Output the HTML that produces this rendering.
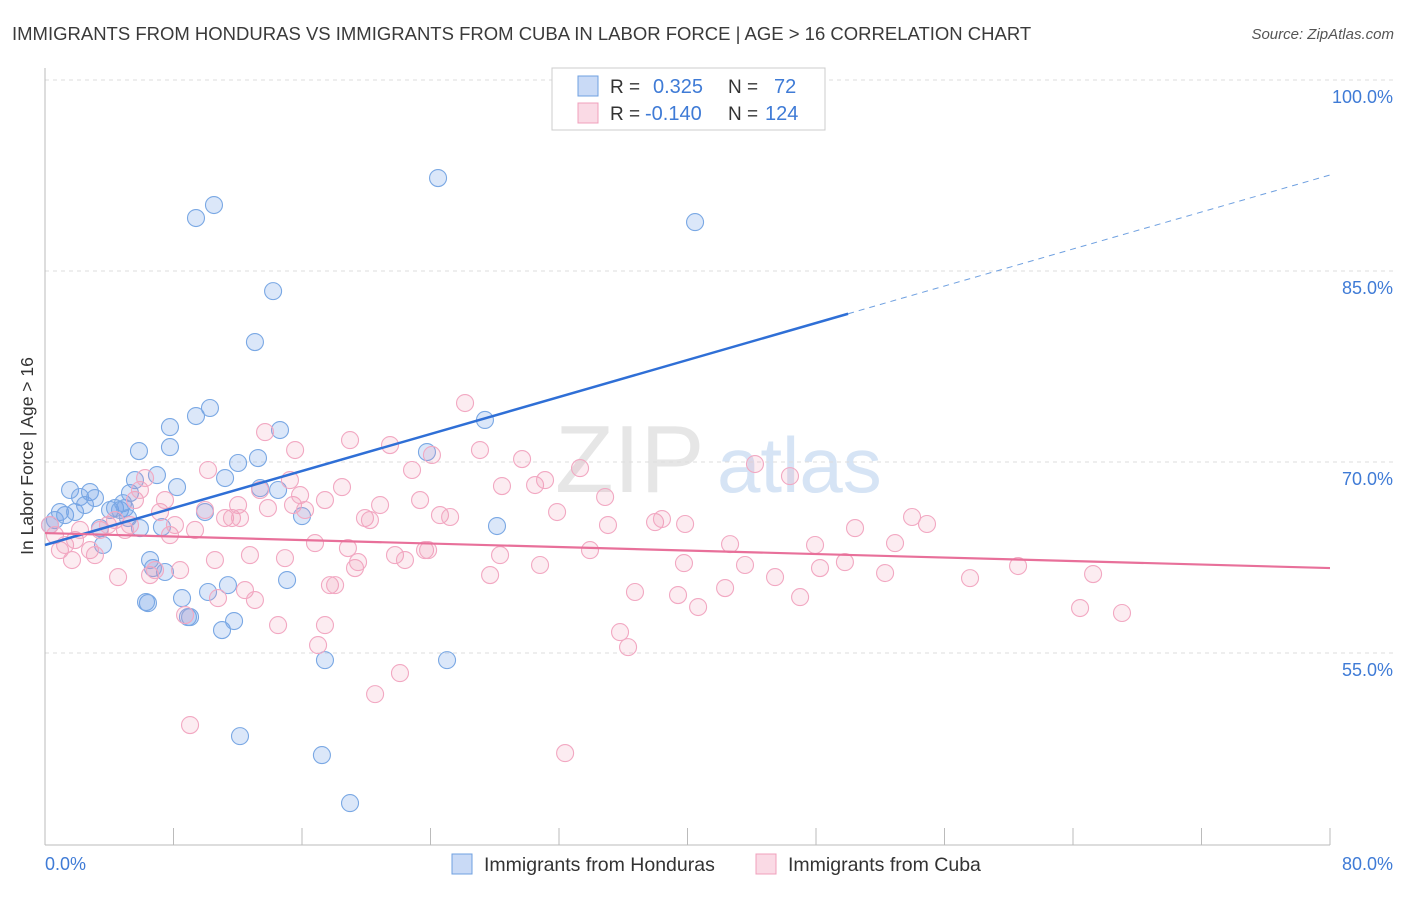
<!DOCTYPE html>
<html><head><meta charset="utf-8"><style>
body{margin:0;background:#fff;font-family:"Liberation Sans",sans-serif}
svg text{font-family:"Liberation Sans",sans-serif}
</style></head><body>
<svg id="chart" width="1406" height="892" xmlns="http://www.w3.org/2000/svg">
<text x="12" y="40" font-size="18.5" fill="#3a3a3a">IMMIGRANTS FROM HONDURAS VS IMMIGRANTS FROM CUBA IN LABOR FORCE | AGE &gt; 16 CORRELATION CHART</text>
<text x="1394" y="39" font-size="15" fill="#555" font-style="italic" text-anchor="end">Source: ZipAtlas.com</text>
<g><text x="555" y="492" font-size="96" fill="#e6e6e6" font-family="Liberation Serif">ZIP</text><text x="717" y="492" font-size="78" fill="#d6e4f5">atlas</text></g>
<g id="grid"></g><g id="axes"></g><g id="pts"></g><g id="trend"></g>
<text transform="translate(33,456) rotate(-90)" font-size="17.5" fill="#333" text-anchor="middle">In Labor Force | Age &gt; 16</text>
<g>
<rect x="552" y="68" width="273" height="62" fill="#fff" stroke="#ccc"/>
<rect x="578" y="76" width="20" height="20" fill="rgba(100,150,230,0.35)" stroke="#6fa0e0"/>
<rect x="578" y="103" width="20" height="20" fill="rgba(240,150,180,0.35)" stroke="#f0a0bc"/>
<text x="610" y="93" font-size="19" fill="#333">R = </text><text x="653" y="93" font-size="20" fill="#3f7bd6">0.325</text>
<text x="728" y="93" font-size="19" fill="#333">N = </text><text x="774" y="93" font-size="20" fill="#3f7bd6">72</text>
<text x="610" y="120" font-size="19" fill="#333">R = </text><text x="645" y="120" font-size="20" fill="#3f7bd6">-0.140</text>
<text x="728" y="120" font-size="19" fill="#333">N = </text><text x="765" y="120" font-size="20" fill="#3f7bd6">124</text>
</g>
<g>
<rect x="452" y="854" width="20" height="20" fill="rgba(100,150,230,0.35)" stroke="#6fa0e0"/>
<text x="484" y="871" font-size="19.5" fill="#333">Immigrants from Honduras</text>
<rect x="756" y="854" width="20" height="20" fill="rgba(240,150,180,0.35)" stroke="#f0a0bc"/>
<text x="788" y="871" font-size="19.5" fill="#333">Immigrants from Cuba</text>
</g>
<text x="45" y="870" font-size="18" fill="#3f7bd6">0.0%</text>
<text x="1393" y="870" font-size="18" fill="#3f7bd6" text-anchor="end">80.0%</text>
</svg>
<script>
const yTicks=[100,85,70,55];
const yTickLabels=["100.0%","85.0%","70.0%","55.0%"];
const xTicks=[0,8,16,24,32,40,48,56,64,72,80];
const hondurasX=[0.31,0.62,0.93,1.25,1.56,1.87,2.18,2.49,2.8,3.11,3.42,3.61,4.05,4.36,4.67,4.86,4.98,5.17,5.29,5.6,5.91,5.85,6.41,6.29,6.54,6.72,6.97,7.28,7.47,7.78,7.78,8.22,8.53,8.9,9.03,9.4,9.4,10.27,10.15,10.52,9.96,11.02,11.21,11.39,11.77,12.02,12.14,13.07,13.26,13.39,14.2,14.51,14.63,15.07,16.0,17.43,17.24,18.99,23.78,24.47,25.03,27.39,28.14,40.47,41.65];
const hondurasY=[65.05,65.44,66.07,65.83,67.8,66.07,67.25,66.62,67.64,67.17,64.81,63.48,66.23,66.38,66.23,66.77,66.38,65.6,67.56,68.58,64.81,70.86,58.92,59.0,62.3,61.67,68.97,64.89,61.36,72.74,71.17,68.03,59.31,57.82,57.82,89.16,73.61,74.24,59.79,90.18,66.07,56.8,68.74,60.33,57.51,69.92,48.47,79.42,70.31,67.95,83.42,67.8,72.51,60.73,65.75,54.44,46.98,43.21,70.78,92.3,54.44,73.3,64.97,88.84,100.0];
const cubaX=[0.31,0.62,0.93,1.25,1.68,1.87,2.18,2.8,3.11,3.42,3.92,4.36,4.55,4.98,5.29,5.6,5.91,6.23,6.54,6.85,7.16,7.47,7.78,8.09,8.41,8.72,9.03,9.34,9.96,10.15,10.58,10.77,11.21,11.64,12.02,12.14,12.45,12.76,13.07,13.39,13.7,13.88,14.51,14.94,15.25,15.44,15.57,15.88,16.19,16.81,17.0,17.43,17.43,17.74,18.06,18.49,18.86,18.99,19.3,19.49,19.92,20.23,20.55,20.86,21.48,21.79,22.1,22.41,22.85,23.35,23.66,23.85,24.09,24.59,25.22,26.15,27.08,27.71,28.33,28.45,29.7,30.51,30.82,31.13,31.88,32.38,33.31,33.93,34.87,35.05,35.8,36.3,36.73,37.98,38.41,39.41,39.78,39.85,40.66,42.34,42.65,43.58,44.2,45.45,46.38,47.01,47.94,48.25,49.8,50.43,52.3,52.92,53.98,54.91,57.59,60.58,64.44,65.25,67.05];
const cubaY=[65.05,64.26,63.08,63.48,62.3,63.87,64.66,63.08,62.69,64.66,65.05,65.44,60.96,64.66,65.05,67.01,67.8,68.74,61.12,61.51,66.07,67.01,64.26,65.05,61.51,57.98,49.34,64.66,66.23,69.37,62.3,59.31,65.6,65.6,66.62,65.6,59.94,62.69,59.16,67.8,72.35,66.38,57.19,62.45,68.58,66.62,70.94,67.4,66.23,63.63,55.62,57.19,67.01,60.33,60.33,68.03,63.24,71.72,61.67,62.14,65.6,65.44,51.77,66.62,71.33,62.69,53.42,62.3,69.37,67.01,63.08,63.08,70.55,65.83,65.68,74.63,70.94,61.12,62.69,68.11,70.23,68.19,61.91,68.58,66.07,47.14,69.52,63.08,67.25,65.05,56.64,55.46,59.79,65.28,65.52,59.55,62.06,65.13,58.61,60.1,63.55,61.91,69.84,60.96,68.89,59.39,63.48,61.67,62.14,64.81,61.28,63.63,65.68,65.13,60.88,61.83,58.53,61.2,58.14];
const hondurasTrend=[63.48,92.54];
const cubaTrend=[64.42,61.67];
const NS="http://www.w3.org/2000/svg";
const sx=v=>45+v/80*1285;
const sy=v=>80+(100-v)*12.733;
function mk(tag,attrs,parent){const e=document.createElementNS(NS,tag);for(const k in attrs)e.setAttribute(k,attrs[k]);document.getElementById(parent).appendChild(e);return e;}
yTicks.forEach((t,i)=>{
 const l=mk('line',{x1:45,x2:1393,y1:sy(t),y2:sy(t),stroke:'#ddd','stroke-dasharray':'4,4'},'grid');
 
 
 const tx=mk('text',{x:1393,y:sy(t)+23,'font-size':18,fill:'#3f7bd6','text-anchor':'end'},'grid');
 tx.textContent=yTickLabels[i];
 
 
});
const ya=mk('line',{x1:45,x2:45,y1:68,y2:845,stroke:'#bbb'},'axes');


const xa=mk('line',{x1:45,x2:1330,y1:845,y2:845,stroke:'#bbb'},'axes');


xTicks.forEach(t=>{
 const k=mk('line',{x1:sx(t),x2:sx(t),y1:828,y2:845,stroke:'#bbb'},'axes');
 
 
});
hondurasX.forEach((x,i)=>{
 const c=mk('circle',{cx:sx(x),cy:sy(hondurasY[i]),r:8.5,fill:'rgba(110,160,230,0.25)',stroke:'#7aa8e4','stroke-width':1.1},'pts');
 
 
});
cubaX.forEach((x,i)=>{
 const c=mk('circle',{cx:sx(x),cy:sy(cubaY[i]),r:8.5,fill:'rgba(240,150,180,0.18)',stroke:'#f2a8c2','stroke-width':1.1},'pts');
 
 
});
const hAt=v=>hondurasTrend[0]+(hondurasTrend[1]-hondurasTrend[0])*v/80;
const t1=mk('line',{x1:sx(0),y1:sy(hAt(0)),x2:sx(50),y2:sy(hAt(50)),stroke:'#2f6fd6','stroke-width':2.5},'trend');


const t2=mk('line',{x1:sx(50),y1:sy(hAt(50)),x2:sx(80),y2:sy(hAt(80)),stroke:'#6fa0e0','stroke-width':1,'stroke-dasharray':'6,5'},'trend');


const t3=mk('line',{x1:sx(0),y1:sy(cubaTrend[0]),x2:sx(80),y2:sy(cubaTrend[1]),stroke:'#e8709a','stroke-width':2.2},'trend');


</script>
</body></html>
